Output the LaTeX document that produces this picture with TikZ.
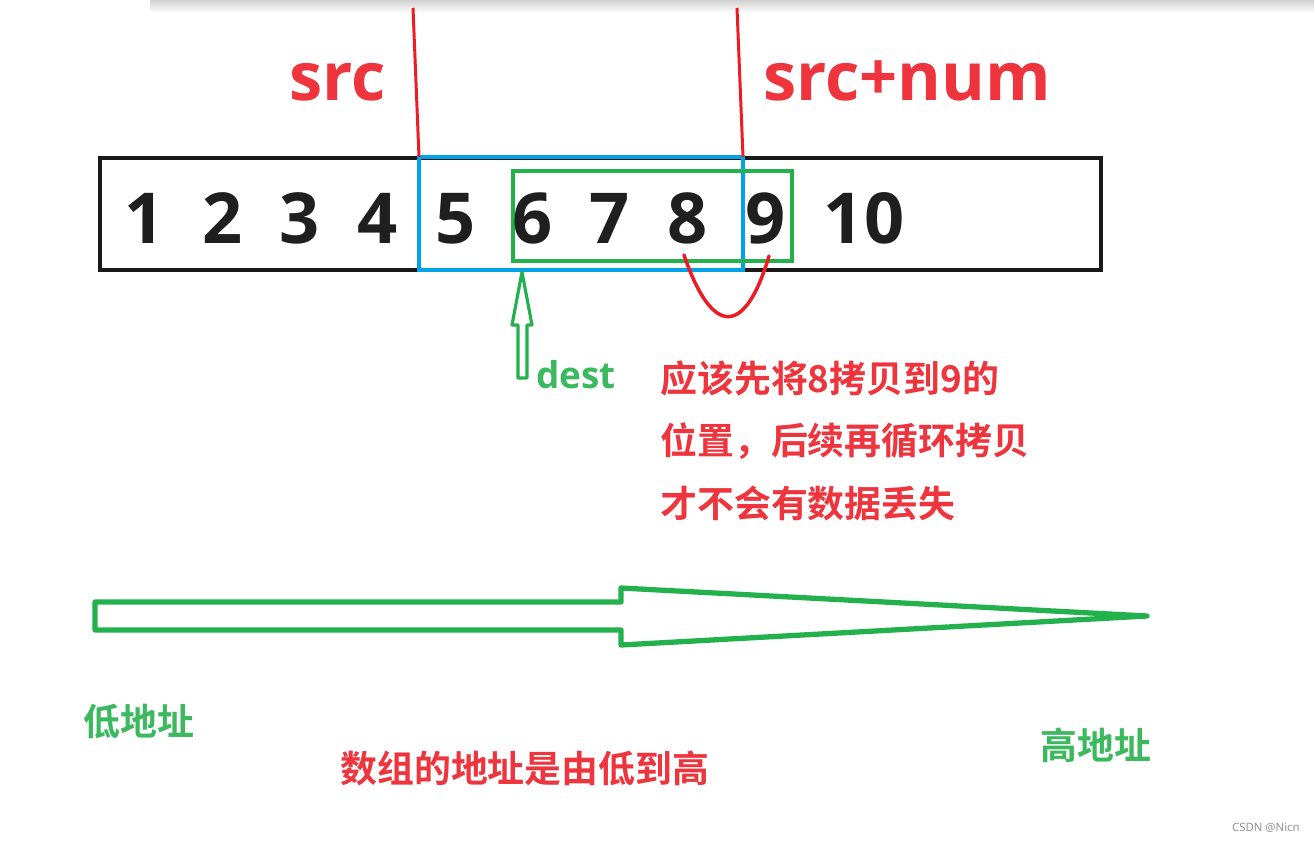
\documentclass[tikz,border=0pt]{standalone}
\usepackage{fontspec}
\usepackage{tikz}
\usetikzlibrary{arrows.meta, calc}
\usepackage{xcolor}
\newfontfamily\cjkfont{Noto Sans CJK SC}[BoldFont={Noto Sans CJK SC Bold}]
\newfontfamily\numfont{Open Sans}
\definecolor{paintred}{RGB}{237,28,36}
\definecolor{textred}{RGB}{238,52,60}
\definecolor{paintgreen}{RGB}{34,177,76}
\definecolor{textgreen}{RGB}{60,185,95}
\definecolor{paintblue}{RGB}{0,162,232}

\begin{document}
\begin{tikzpicture}[x=0.02cm, y=-0.02cm, >=stealth,
    digit/.style={anchor=base, inner sep=0pt, text=black!88,
      font=\numfont\bfseries\fontsize{40}{44}\selectfont},
    ptr/.style={anchor=base, inner sep=0pt, text=textred,
      font=\numfont\bfseries\fontsize{38}{42}\selectfont},
    note/.style={anchor=west, inner sep=0pt, text=textred,
      font=\cjkfont\bfseries\fontsize{21}{25}\selectfont},
    addr/.style={anchor=west, inner sep=0pt, text=textgreen,
      font=\cjkfont\bfseries\fontsize{21}{25}\selectfont}]
  \useasboundingbox (0,0) rectangle (1314,841);
  \shade[top color=black!18, bottom color=white] (150,0) rectangle (1314,13);

  % the array
  \coordinate (arrNW) at (100,158);
  \coordinate (arrSE) at (1101,270);
  \coordinate (srcNW) at (419,157);
  \coordinate (srcNE) at (743,157);
  \coordinate (srcSE) at (743,270);
  \coordinate (dstNW) at (513,171);
  \coordinate (dstSE) at (792,261);
  \coordinate (dstS) at (522,272);

  \draw[line width=2.6pt, black!90] (arrNW) rectangle (arrSE);
  \draw[line width=2.1pt, paintblue] (srcNW) rectangle (srcSE);
  \draw[line width=2pt, paintgreen] (dstNW) rectangle (dstSE);

  \foreach \v/\x in {1/145, 2/223, 3/300, 4/378, 5/456, 6/533, 7/610, 8/688, 9/766, 10/864}
    \node[digit] (n\v) at (\x,243) {\v};

  % src and src+num
  \coordinate (srcTop) at (413,8);
  \coordinate (endTop) at (737,8);
  \draw[line width=1.7pt, paintred] (srcTop) -- (srcNW);
  \draw[line width=1.7pt, paintred] (endTop) -- (srcNE);
  \node[ptr] (src) at (338,101) {src};
  \node[ptr] (srcnum) at (907,101) {src+num};

  % 8 -> 9
  \coordinate (eightS) at (684,255);
  \coordinate (nineS) at (769,256);
  \draw[line width=2pt, paintred, line cap=round]
    (eightS) .. controls (712,337) and (745,337) .. (nineS);

  % dest
  \draw[line width=1.8pt, paintgreen, line join=round]
    (dstS) -- (532,325) -- (527,325) -- (527,378) -- (518,378)
    -- (518,325) -- (512,325) -- cycle;
  \node[anchor=base west, inner sep=0pt, text=textgreen,
    font=\numfont\bfseries\fontsize{21}{25}\selectfont] (dest) at (536,388) {dest};

  \node[note] (line1) at (660,378) {应该先将8拷贝到9的};
  \node[note] (line2) at (660,441) {位置，后续再循环拷贝};
  \node[note] (line3) at (660,503) {才不会有数据丢失};

  % low to high
  \draw[line width=3pt, paintgreen, line join=round]
    (95,602) -- (621,602) -- (621,588) -- (1147,616) -- (621,645)
    -- (621,630) -- (95,630) -- cycle;
  \node[addr] (low) at (83,722) {低地址};
  \node[addr] (high) at (1040,745) {高地址};
  \node[note] (order) at (340,768) {数组的地址是由低到高};

  \node[anchor=east, inner sep=0pt, text=black!45,
    font=\numfont\fontsize{6.5}{7}\selectfont] (mark) at (1300,828) {CSDN @Nicn};
\end{tikzpicture}
\end{document}
